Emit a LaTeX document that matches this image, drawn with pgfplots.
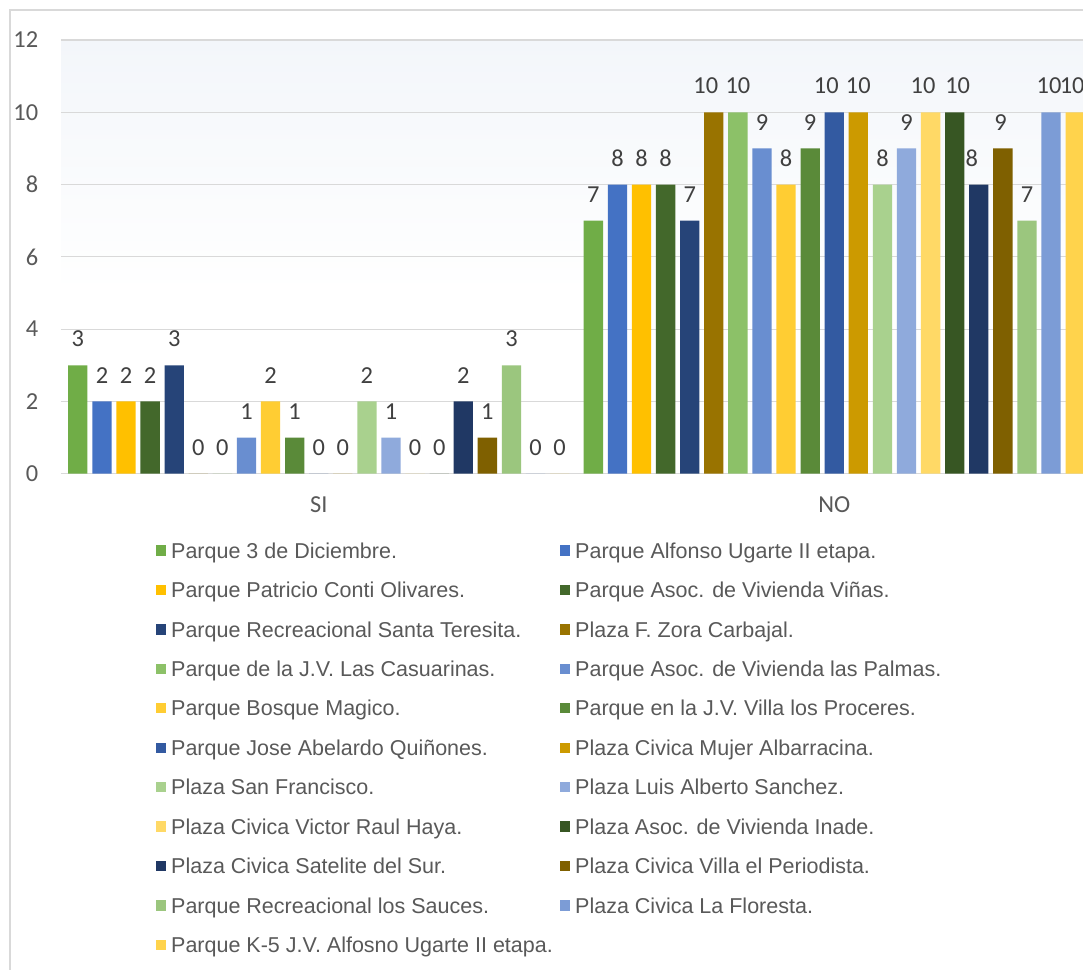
\documentclass[border=0pt]{standalone}
\usepackage{pgfplots}
\pgfplotsset{compat=1.18}
\usepackage{fontspec}
\setmainfont{Liberation Sans}
\newfontfamily\carl{Carlito}

\definecolor{gridc}{HTML}{D9D9D9}
\definecolor{txt}{HTML}{595959}
\definecolor{lbl}{HTML}{404040}
\definecolor{bgtop}{HTML}{F3F6FA}
% green / blue / gold cycle with darker and lighter variants
\definecolor{s1}{HTML}{70AD47}
\definecolor{s2}{HTML}{4472C4}
\definecolor{s3}{HTML}{FFC000}
\definecolor{s4}{HTML}{43682B}
\definecolor{s5}{HTML}{264478}
\definecolor{s6}{HTML}{997300}
\definecolor{s7}{HTML}{8CC168}
\definecolor{s8}{HTML}{698ED0}
\definecolor{s9}{HTML}{FFCD33}
\definecolor{s10}{HTML}{5A8A39}
\definecolor{s11}{HTML}{335AA1}
\definecolor{s12}{HTML}{CC9A00}
\definecolor{s13}{HTML}{A9D18E}
\definecolor{s14}{HTML}{8FAADC}
\definecolor{s15}{HTML}{FFD966}
\definecolor{s16}{HTML}{375623}
\definecolor{s17}{HTML}{203864}
\definecolor{s18}{HTML}{7F6000}
\definecolor{s19}{HTML}{9BC67E}
\definecolor{s20}{HTML}{7C9CD6}
\definecolor{s21}{HTML}{FFD34C}

% shifts the label of the NO bar only (rawx = 1)
\pgfplotsset{nudge/.style={nodes near coords style={xshift={#1*\xv}}}}

\begin{document}
\begin{tikzpicture}
\fill[white] (0pt,0pt) rectangle (541.5pt,-485pt);
\draw[gridc, line width=0.6pt] (5pt,-490pt) -- (5pt,-5pt) -- (550pt,-5pt);
\shade[top color=bgtop, bottom color=white] (30.5pt,-146.5pt) rectangle (546pt,-20pt);
\begin{axis}[
    at={(30.5pt,-236.85pt)}, anchor=south west,
    scale only axis, width=515.5pt, height=216.85pt,
    ybar=2.395pt, bar width=9.65pt,
    xmin=-0.5, xmax=1.5, ymin=0, ymax=12,
    xtick={0,1}, xticklabels={SI,NO},
    ytick={0,2,...,12},
    ymajorgrids, major grid style={draw=gridc, line width=0.6pt},
    axis line style={draw=none}, major tick length=0pt,
    /pgf/number format/assume math mode=true,
    tick label style={font=\carl\fontsize{12.2}{14}\selectfont, text=txt, inner sep=0pt},
    xticklabel style={anchor=base, yshift=-19.5pt},
    yticklabel style={anchor=east, xshift=-11.2pt},
    nodes near coords,
    visualization depends on={rawx \as \xv},
    nodes near coords style={font=\carl\fontsize{12.2}{14}\selectfont, text=lbl, inner sep=0pt, yshift=9pt},
    legend columns=2,
    legend cell align=left,
    legend style={draw=none, fill=none, inner sep=0pt, outer sep=0pt,
        at={(0.09214,-0.15933)}, anchor=north west,
        font=\fontsize{10.75}{12}\selectfont, text=txt,
        nodes={inner sep=0pt, text height=7.7pt, text depth=0pt},
        row sep=12.02pt,
        /tikz/every odd column/.style={column sep=2.4pt},
        /tikz/every even column/.style={column sep=3.6pt}},
    every axis plot post/.append style={draw=none,
        legend image code/.code={\fill[##1,draw=none] (0pt,-2.6pt) rectangle (5.2pt,2.6pt);}},
]
\addplot[fill=s1] coordinates {(0,3) (1,7)};
\addlegendentry{Parque 3 de Diciembre.}
\addplot[fill=s2] coordinates {(0,2) (1,8)};
\addlegendentry{Parque Alfonso Ugarte II etapa.}
\addplot[fill=s3] coordinates {(0,2) (1,8)};
\addlegendentry{Parque Patricio Conti Olivares.}
\addplot[fill=s4] coordinates {(0,2) (1,8)};
\addlegendentry{Parque Asoc. de Vivienda Viñas.}
\addplot[fill=s5] coordinates {(0,3) (1,7)};
\addlegendentry{Parque Recreacional Santa Teresita.}
\addplot[fill=s6, nudge=-4pt] coordinates {(0,0) (1,10)};
\addlegendentry{Plaza F. Zora Carbajal.}
\addplot[fill=s7] coordinates {(0,0) (1,10)};
\addlegendentry{Parque de la J.V. Las Casuarinas.}
\addplot[fill=s8] coordinates {(0,1) (1,9)};
\addlegendentry{Parque Asoc. de Vivienda las Palmas.}
\addplot[fill=s9] coordinates {(0,2) (1,8)};
\addlegendentry{Parque Bosque Magico.}
\addplot[fill=s10] coordinates {(0,1) (1,9)};
\addlegendentry{Parque en la J.V. Villa los Proceres.}
\addplot[fill=s11, nudge=-4pt] coordinates {(0,0) (1,10)};
\addlegendentry{Parque Jose Abelardo Quiñones.}
\addplot[fill=s12] coordinates {(0,0) (1,10)};
\addlegendentry{Plaza Civica Mujer Albarracina.}
\addplot[fill=s13] coordinates {(0,2) (1,8)};
\addlegendentry{Plaza San Francisco.}
\addplot[fill=s14] coordinates {(0,1) (1,9)};
\addlegendentry{Plaza Luis Alberto Sanchez.}
\addplot[fill=s15, nudge=-3.8pt] coordinates {(0,0) (1,10)};
\addlegendentry{Plaza Civica Victor Raul Haya.}
\addplot[fill=s16, nudge=1.5pt] coordinates {(0,0) (1,10)};
\addlegendentry{Plaza Asoc. de Vivienda Inade.}
\addplot[fill=s17, nudge=-3.5pt] coordinates {(0,2) (1,8)};
\addlegendentry{Plaza Civica Satelite del Sur.}
\addplot[fill=s18, nudge=-1.2pt] coordinates {(0,1) (1,9)};
\addlegendentry{Plaza Civica Villa el Periodista.}
\addplot[fill=s19] coordinates {(0,3) (1,7)};
\addlegendentry{Parque Recreacional los Sauces.}
\addplot[fill=s20, nudge=-1pt] coordinates {(0,0) (1,10)};
\addlegendentry{Plaza Civica La Floresta.}
\addplot[fill=s21, nudge=-1.5pt] coordinates {(0,0) (1,10)};
\addlegendentry{Parque K-5 J.V. Alfosno Ugarte II etapa.}
\end{axis}
\pgfresetboundingbox
\path[use as bounding box] (0pt,0pt) rectangle (541.5pt,-485pt);
\end{tikzpicture}
\end{document}
